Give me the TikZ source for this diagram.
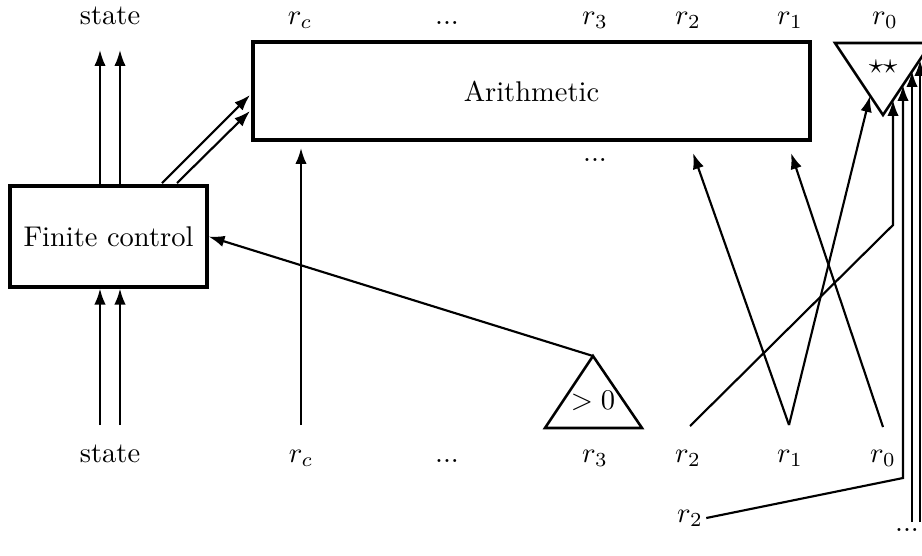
\documentclass[tikz,border=0pt]{standalone}
\usetikzlibrary{arrows.meta,fit}
\begin{document}
\begin{tikzpicture}[x=0.01233cm,y=-0.01233cm,
  box/.style={draw, line width=1.1pt, inner sep=0pt},
  arr/.style={line width=0.75pt, -{Latex[length=5.6pt,width=4pt]}},
  lbl/.style={anchor=base, inner sep=0pt}]
\useasboundingbox (0,0) rectangle (922,555);
% boxes
\node[box, fit={(253,42) (810,140)}] (arith) {};
\node (arithtext) at (arith.center) {Arithmetic};
\node[box, fit={(10,186) (207,287)}] (fc) {};
\node (fctext) at (fc.center) {Finite control};
\node (adots) at (595,160) {...};
% top labels
\node[lbl] (tstate) at (110,24) {state};
\node[lbl] (trc) at (300,24) {$r_c$};
\node[lbl] (tdots) at (447,24) {...};
\node[lbl] (tr3) at (595,24) {$r_3$};
\node[lbl] (tr2) at (688,24) {$r_2$};
\node[lbl] (tr1) at (790,24) {$r_1$};
\node[lbl] (tr0) at (885,24) {$r_0$};
% bottom labels
\node[lbl] (bstate) at (110,462) {state};
\node[lbl] (brc) at (301,462) {$r_c$};
\node[lbl] (bdots) at (447,462) {...};
\node[lbl] (br3) at (595,462) {$r_3$};
\node[lbl] (br2) at (688,462) {$r_2$};
\node[lbl] (br1) at (790,462) {$r_1$};
\node[lbl] (br0) at (883,462) {$r_0$};
\node[inner sep=1pt] (lr2) at (690,518) {$r_2$};
\node (ldots) at (907,530) {...};
% >0 triangle
\coordinate (gapex) at (593,356);
\coordinate (gl) at (545,428);
\coordinate (gr) at (642,428);
\draw[line width=0.9pt] (gapex) -- (gl) -- (gr) -- cycle;
\node (gt) at (593,401) {$>0$};
% star triangle
\coordinate (stl) at (835,43);
\coordinate (str) at (931,43);
\coordinate (sapex) at (883,115);
\draw[line width=0.9pt] (str) -- (stl) -- (sapex) -- cycle;
\node (st) at (883,67) {$\star\star$};
% state arrows
\coordinate (su1) at (100,50);
\coordinate (su2) at (120,50);
\draw[arr] (fc.north -| su1) -- (su1);
\draw[arr] (fc.north -| su2) -- (su2);
\coordinate (sd1) at (100,425);
\coordinate (sd2) at (120,425);
\draw[arr] (sd1) -- (fc.south -| sd1);
\draw[arr] (sd2) -- (fc.south -| sd2);
% double arrow to arithmetic
\coordinate (fa1) at (162,183);
\coordinate (fa2) at (177,183);
\coordinate (at1) at (250,95);
\coordinate (at2) at (250,111);
\draw[arr] (fa1) -- (at1);
\draw[arr] (fa2) -- (at2);
% r_c
\coordinate (rcb) at (301,425);
\coordinate (rct) at (301,148);
\draw[arr] (rcb) -- (rct);
% >0 to finite control
\draw[arr] (gapex) -- (fc.east);
% r2 bottom
\coordinate (r2b) at (690,426);
\coordinate (r2k) at (893,225);
\coordinate (r2t) at (893,100);
\draw[arr] (r2b) -- (r2k) -- (r2t);
% r1 bottom
\coordinate (r1b) at (789,425);
\coordinate (r1t) at (693,153);
\coordinate (r1s) at (870,96);
\draw[arr] (r1b) -- (r1t);
\draw[arr] (r1b) -- (r1s);
% r0 bottom
\coordinate (r0b) at (883,427);
\coordinate (r0t) at (791,153);
\draw[arr] (r0b) -- (r0t);
% lower r2
\coordinate (lk) at (903,478);
\coordinate (lt) at (903,85);
\draw[arr] (lr2.east) -- (lk) -- (lt);
% dots arrows
\coordinate (d1b) at (912,522);
\coordinate (d1t) at (912,71);
\coordinate (d2b) at (920,522);
\coordinate (d2t) at (920,60);
\draw[arr] (d1b) -- (d1t);
\draw[arr] (d2b) -- (d2t);
\end{tikzpicture}
\end{document}
